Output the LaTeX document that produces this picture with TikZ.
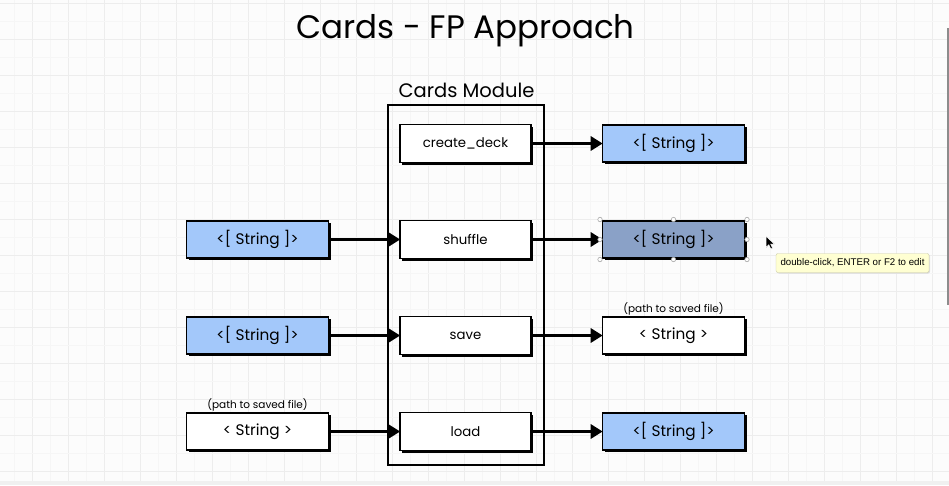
\documentclass[tikz,border=0pt]{standalone}
\usepackage{fontspec}
\setmainfont{Poppins}
\newfontfamily\tipfont{Liberation Sans}
\usetikzlibrary{arrows.meta,shadows}
\definecolor{gridmain}{HTML}{EDEDED}
\definecolor{gridminor}{HTML}{F6F6F6}
\definecolor{lblue}{HTML}{A3C8FA}
\definecolor{dblue}{HTML}{8AA1C7}
\definecolor{tipfill}{HTML}{FFFFD2}
\tikzset{
  box/.style={draw=black, line width=1.6pt, fill=white, inner sep=0pt,
    general shadow={fill=black, shadow xshift=2.2pt, shadow yshift=-2.2pt},
    font=\fontsize{13.3}{15}\selectfont},
  fnbox/.style={box, minimum width=131pt, minimum height=38pt},
  iobox/.style={box, minimum width=142pt, minimum height=37pt, font=\fontsize{15.3}{17}\selectfont},
  listbox/.style={iobox, fill=lblue},
  conn/.style={line width=3pt, -{Triangle[length=12pt,width=14pt]}, shorten >=-1pt},
  note/.style={font=\fontsize{10.5}{12}\selectfont, inner sep=0pt},
  handle/.style={circle, fill=white, draw=gray!70, line width=0.6pt, minimum size=4.4pt, inner sep=0pt}
}
\begin{document}
\begin{tikzpicture}[x=1pt,y=-1pt]
\useasboundingbox (0,0) rectangle (949,485);
\fill[white!99!black] (0,0) rectangle (949,485);
% grid
\foreach \i in {0,...,26} {
  \draw[gridminor, line width=0.8pt] ({14.3+36*\i},0) -- ({14.3+36*\i},485);
  \draw[gridmain, line width=1pt] ({32.3+36*\i},0) -- ({32.3+36*\i},485);
}
\foreach \j in {0,...,13} {
  \draw[gridminor, line width=0.8pt] (0,{21.3+36*\j}) -- (949,{21.3+36*\j});
  \draw[gridmain, line width=1pt] (0,{3.3+36*\j}) -- (949,{3.3+36*\j});
}
\fill[gray!12] (0,481) rectangle (949,485);
\fill[gray!90] (946.5,28) rectangle (949,305);

% title
\node[inner sep=0pt, font=\fontsize{32.5}{38}\selectfont] (title) at (465.5,31) {Cards - FP Approach};

% module
\node[inner sep=0pt, font=\fontsize{19.5}{23}\selectfont] (modlabel) at (466.5,90) {Cards Module};
\node[draw=black, line width=1.6pt, minimum width=156pt, minimum height=360pt, inner sep=0pt] (module) at (466,285) {};

% function boxes
\node[fnbox] (create) at (465.5,143.5) {create\_deck};
\node[fnbox] (shuffle) at (465.5,239.5) {shuffle};
\node[fnbox] (save) at (465.5,335.5) {save};
\node[fnbox] (load) at (465.5,431.5) {load};

% left inputs
\node[listbox] (inS) at (257.5,239.5) {<[ String ]>};
\node[listbox] (inSave) at (257.5,335.5) {<[ String ]>};
\node[iobox] (inLoad) at (257.5,431.5) {< String >};
\node[note] (inLoadNote) at (257.5,405) {(path to saved file)};

% right outputs
\node[listbox] (outC) at (673.5,143.5) {<[ String ]>};
\node[iobox, fill=dblue] (outS) at (673.5,239.5) {<[ String ]>};
\node[iobox] (outSave) at (673.5,335.5) {< String >};
\node[note] (outSaveNote) at (673.5,309) {(path to saved file)};
\node[listbox] (outL) at (673.5,431.5) {<[ String ]>};

% connectors
\draw[conn] (create.east) -- (outC.west);
\draw[conn] (inS.east) -- (shuffle.west);
\draw[conn] (shuffle.east) -- (outS.west);
\draw[conn] (inSave.east) -- (save.west);
\draw[conn] (save.east) -- (outSave.west);
\draw[conn] (inLoad.east) -- (load.west);
\draw[conn] (load.east) -- (outL.west);

% selection handles
\foreach \p in {(600,219.5),(673.5,219.5),(747,219.5),(600,239.5),(747,239.5),(600,259.5),(673.5,259.5),(747,259.5)} {
  \node[handle] at \p {};
}

% cursor
\filldraw[fill=black, draw=white, line width=0.6pt, shift={(766,236)}]
  (0,0) -- (0,11.5) -- (2.8,8.8) -- (4.8,13) -- (6.6,12.2) -- (4.7,8.1) -- (8.4,8.1) -- cycle;

% tooltip
\node[fill=tipfill, draw=tipfill!80!black, line width=0.4pt, rounded corners=2pt,
  drop shadow={shadow xshift=1pt, shadow yshift=-1pt, opacity=0.25},
  minimum width=153pt, minimum height=19pt, inner sep=0pt,
  font=\tipfont\fontsize{9.7}{12}\selectfont] (tip) at (852.5,263) {double-click, ENTER or F2 to edit};
\end{tikzpicture}
\end{document}
